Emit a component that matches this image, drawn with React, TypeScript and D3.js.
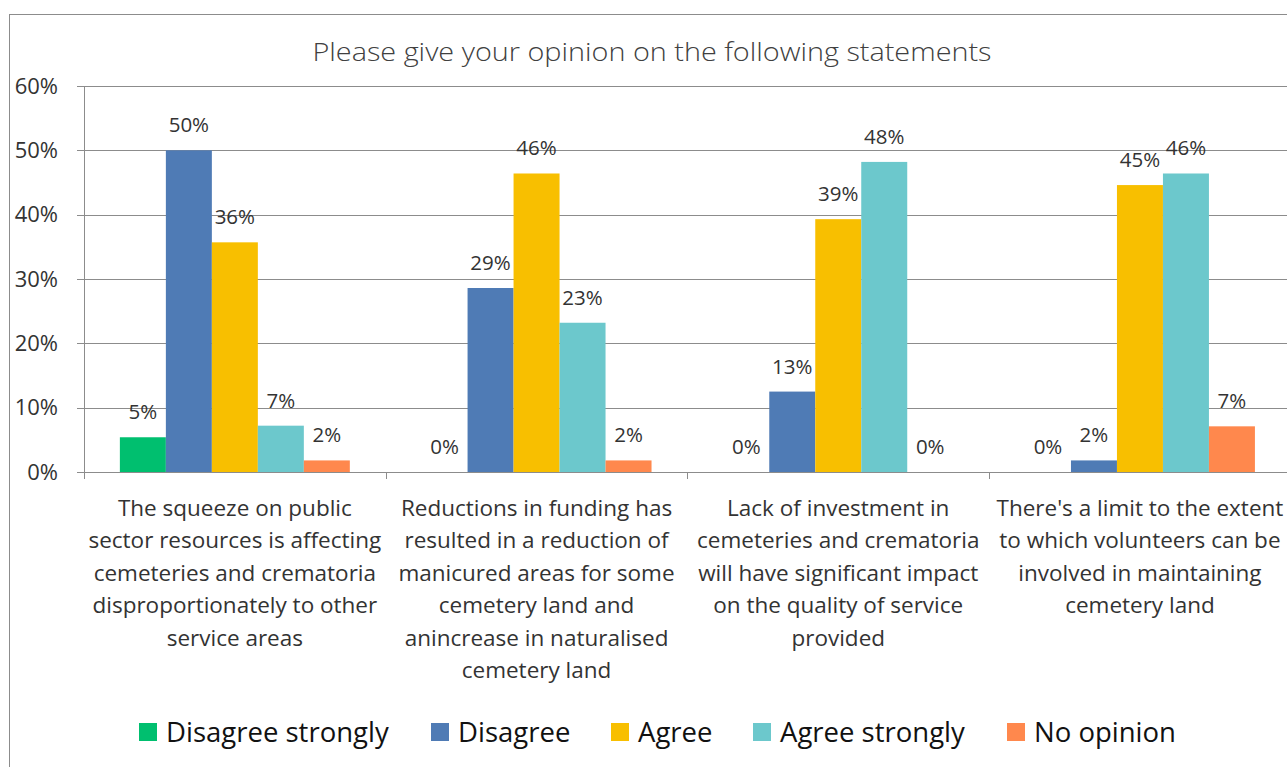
import React from "react";
import * as d3 from "d3";

const categories = ["c1", "c2", "c3", "c4"];
const categoryLines = [
  ["The squeeze on public", "sector resources is affecting", "cemeteries and crematoria", "disproportionately to other", "service areas"],
  ["Reductions in funding has", "resulted in a reduction of", "manicured areas for some", "cemetery land and", "anincrease in naturalised", "cemetery land"],
  ["Lack of investment in", "cemeteries and crematoria", "will have significant impact", "on the quality of service", "provided"],
  ["There's a limit to the extent", "to which volunteers can be", "involved in maintaining", "cemetery land"],
];
const seriesNames = ["Disagree strongly", "Disagree", "Agree", "Agree strongly", "No opinion"];
const seriesColors = ["#00BF6F", "#4F7BB5", "#F8BF00", "#6CC8CC", "#FF884D"];
const disagreeStrongly = [0.054, 0, 0, 0];
const disagree = [0.5, 0.286, 0.125, 0.018];
const agree = [0.357, 0.464, 0.393, 0.446];
const agreeStrongly = [0.072, 0.232, 0.482, 0.464];
const noOpinion = [0.018, 0.018, 0, 0.071];
const seriesValues = [disagreeStrongly, disagree, agree, agreeStrongly, noOpinion];
const yTicks = [0, 0.1, 0.2, 0.3, 0.4, 0.5, 0.6];
const title = "Please give your opinion on the following statements";

const FONT = "'Open Sans', Lato, sans-serif";

export default function App() {
  const W = 1287, H = 767;
  const left = 84, top = 86, bottom = 472, right = 1290.8;
  const y = d3.scaleLinear().domain([0, 0.6]).range([bottom, top]);
  const x0 = d3.scaleBand<string>().domain(categories).range([left, right]).paddingInner(0).paddingOuter(0);
  const x1 = d3.scaleBand<string>().domain(seriesNames).range([0, x0.bandwidth()]).paddingInner(0).paddingOuter(0.78);
  const pct = d3.format(".0%");
  const textColor = "#333";

  const legendX = [139, 431, 611, 753, 1007];

  return (
    <svg width={W} height={H} style={{ position: "absolute", left: 0, top: 0 }} fontFamily={FONT}>
      <rect x={0} y={0} width={W} height={H} fill="#fff" />
      <rect x={9.5} y={14.5} width={W + 20} height={H + 20} fill="none" stroke="#8c8c8c" strokeWidth={1} />
      <text x={652} y={61} textAnchor="middle" fontSize={26} fontWeight={300} fill="#404040" textLength={679} lengthAdjust="spacingAndGlyphs">{title}</text>

      {yTicks.map((t) => (
        <g key={t}>
          <line x1={77} x2={W} y1={Math.round(y(t)) + 0.5} y2={Math.round(y(t)) + 0.5} stroke="#8c8c8c" strokeWidth={1} />
          <text x={58} y={y(t) + 7.5} textAnchor="end" fontSize={22} fill={textColor}>{pct(t)}</text>
        </g>
      ))}
      <line x1={left + 0.5} x2={left + 0.5} y1={top} y2={bottom + 7} stroke="#8c8c8c" />
      {categories.map((c) => (
        <line key={c} x1={Math.round(x0(c)! + x0.bandwidth()) + 0.5} x2={Math.round(x0(c)! + x0.bandwidth()) + 0.5} y1={bottom} y2={bottom + 7} stroke="#8c8c8c" />
      ))}

      {categories.map((c, ci) => (
        <g key={c} transform={`translate(${x0(c)},0)`}>
          {seriesNames.map((s, si) => {
            const v = seriesValues[si][ci];
            const bx = x1(s)!;
            return (
              <g key={s}>
                <rect x={bx} y={y(v)} width={x1.bandwidth()} height={bottom - y(v)} fill={seriesColors[si]} />
                <text x={bx + x1.bandwidth() / 2} y={y(v) - 18} textAnchor="middle" fontSize={20.5} fill={textColor}>{pct(v)}</text>
              </g>
            );
          })}
          {categoryLines[ci].map((ln, li) => (
            <text key={li} x={x0.bandwidth() / 2} y={516 + li * 32.4} textAnchor="middle" fontSize={22.5} fill={textColor}>{ln}</text>
          ))}
        </g>
      ))}

      {seriesNames.map((s, i) => (
        <g key={s} transform={`translate(${legendX[i]},0)`}>
          <rect x={0} y={723} width={18} height={18} fill={seriesColors[i]} />
          <text x={27} y={742} fontSize={27.5} fill="#111">{s}</text>
        </g>
      ))}
    </svg>
  );
}
